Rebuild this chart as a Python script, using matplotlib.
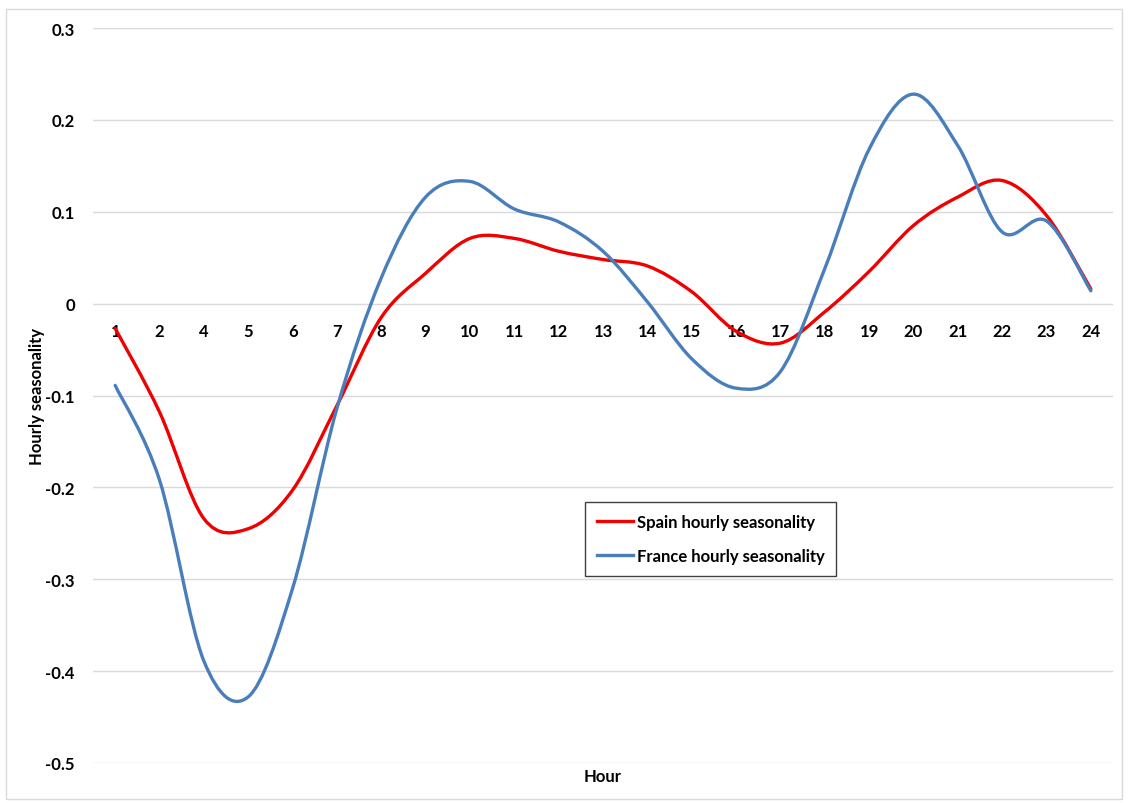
import matplotlib
matplotlib.use("Agg")
import matplotlib.pyplot as plt
from matplotlib.path import Path
from matplotlib.patches import PathPatch, Rectangle
from matplotlib.lines import Line2D

hours = ["1", "2", "4", "5", "6", "7", "8", "9", "10", "11", "12", "13",
         "14", "15", "16", "17", "18", "19", "20", "21", "22", "23", "24"]
spain = [-0.027, -0.118, -0.234, -0.245, -0.203, -0.111, -0.015, 0.033, 0.071,
         0.071, 0.057, 0.048, 0.041, 0.013, -0.030, -0.043, -0.009, 0.035,
         0.085, 0.116, 0.134, 0.096, 0.016]
france = [-0.089, -0.192, -0.389, -0.428, -0.310, -0.114, 0.028, 0.116, 0.133,
          0.103, 0.089, 0.057, 0.002, -0.060, -0.092, -0.074, 0.038, 0.168,
          0.228, 0.172, 0.078, 0.090, 0.014]
yticks = [0.3, 0.2, 0.1, 0, -0.1, -0.2, -0.3, -0.4, -0.5]
ytick_labels = ["0.3", "0.2", "0.1", "0", "-0.1", "-0.2", "-0.3", "-0.4", "-0.5"]

SPAIN_COLOR = "#F00000"
FRANCE_COLOR = "#4A7EBB"
FONT = "Lato"
FS = 12


def smooth_path(xs, ys):
    # Excel-style smoothed line: cubic Bezier segments through every point
    n = len(xs)
    verts = [(xs[0], ys[0])]
    codes = [Path.MOVETO]
    for i in range(n - 1):
        x0, y0 = (xs[i - 1], ys[i - 1]) if i > 0 else (xs[i], ys[i])
        x1, y1 = xs[i], ys[i]
        x2, y2 = xs[i + 1], ys[i + 1]
        x3, y3 = (xs[i + 2], ys[i + 2]) if i + 2 < n else (x2, y2)
        c1 = (x1 + (x2 - x0) / 6.0, y1 + (y2 - y0) / 6.0)
        c2 = (x2 - (x3 - x1) / 6.0, y2 - (y3 - y1) / 6.0)
        verts += [c1, c2, (x2, y2)]
        codes += [Path.CURVE4] * 3
    return Path(verts, codes)


fig = plt.figure(figsize=(11.29, 8.04), dpi=100)
fig.patches.append(Rectangle((6 / 1129, 1 - 800 / 804), (1122 - 6) / 1129, (800 - 10) / 804,
                             transform=fig.transFigure, fill=False,
                             edgecolor="#D9D9D9", linewidth=1.0))

ax = fig.add_axes([93 / 1129, 1 - 764 / 804, (1113 - 93) / 1129, (764 - 29) / 804])
xpos = list(range(len(hours)))
ax.set_xlim(-0.5, len(hours) - 0.5)
ax.set_ylim(-0.5, 0.3)

for vals, col in [(spain, SPAIN_COLOR), (france, FRANCE_COLOR)]:
    p = smooth_path(xpos, vals)
    ax.add_patch(PathPatch(p, facecolor="none", edgecolor=col, linewidth=2.4,
                           capstyle="round", joinstyle="round", zorder=3))

ax.set_yticks(yticks)
ax.set_yticklabels(ytick_labels)
ax.grid(axis="y", color="#D9D9D9", linewidth=1.0)
ax.set_axisbelow(True)
for s in ["top", "right", "left"]:
    ax.spines[s].set_visible(False)
ax.spines["bottom"].set_position(("data", 0))
ax.spines["bottom"].set_visible(False)
ax.set_xticks(xpos)
ax.set_xticklabels(hours)
ax.tick_params(axis="x", length=0, pad=14)
ax.tick_params(axis="y", length=0, pad=13)
for lab in ax.get_xticklabels() + ax.get_yticklabels():
    lab.set_fontfamily(FONT)
    lab.set_fontweight("bold")
    lab.set_fontsize(FS)
    lab.set_color("#000000")

fig.text(603 / 1129, 1 - 777 / 804, "Hour", ha="center", va="center",
         fontfamily=FONT, fontweight="bold", fontsize=FS)
fig.text(37 / 1129, 1 - 397 / 804, "Hourly seasonality", ha="center", va="center",
         rotation=90, fontfamily=FONT, fontweight="bold", fontsize=FS)

handles = [Line2D([], [], color=SPAIN_COLOR, linewidth=2.4),
           Line2D([], [], color=FRANCE_COLOR, linewidth=2.4)]
leg = ax.legend(handles, ["Spain hourly seasonality", "France hourly seasonality"],
                loc="upper left", bbox_to_anchor=((585 - 93) / 1020, (764 - 503) / 735),
                frameon=True, fancybox=False, framealpha=1, edgecolor="#404040",
                prop={"family": FONT, "weight": "bold", "size": FS},
                handlelength=2.2, handletextpad=0.2, borderpad=0.7, labelspacing=1.1,
                borderaxespad=0)
leg.get_frame().set_linewidth(1.0)

fig.savefig("out.png", dpi=100, facecolor="white")
